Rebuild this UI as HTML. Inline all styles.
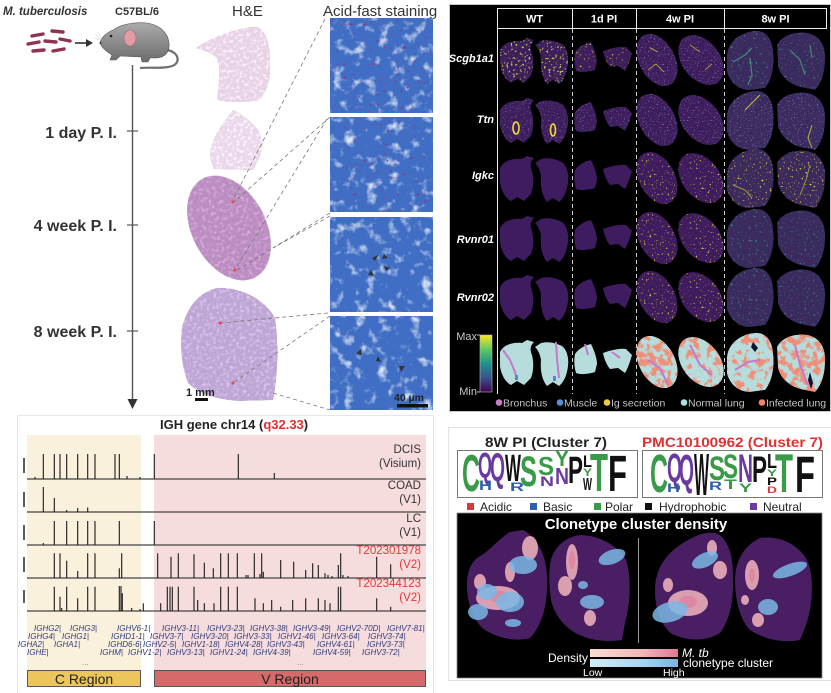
<!DOCTYPE html>
<html><head><meta charset="utf-8">
<style>
html,body{margin:0;padding:0;background:#fff;width:831px;height:693px;overflow:hidden}
svg{display:block}
text{font-family:"Liberation Sans",Arial,sans-serif}
.b{font-weight:bold}
.it{font-style:italic}
.g{font-style:italic;font-size:8px;fill:#2d3a7c}
.lg{font-size:10.5px;fill:#c4c4c4}
.rl{font-weight:bold;font-style:italic;font-size:11px;fill:#fff}
.hd{font-weight:bold;font-size:11px;fill:#fff}
.tl{font-size:11.5px;fill:#333}
.tr{font-size:11.5px;fill:#e03a3a}
.lo{font-weight:bold;font-size:10px}
</style></head><body>
<svg width="831" height="693" viewBox="0 0 831 693" xmlns="http://www.w3.org/2000/svg">
<defs>
 <linearGradient id="mg" x1="0" y1="0" x2="0" y2="1"><stop offset="0" stop-color="#ababab"/><stop offset="1" stop-color="#6c6c6c"/></linearGradient>
 <linearGradient id="vir" x1="0" y1="0" x2="0" y2="1"><stop offset="0" stop-color="#fde725"/><stop offset=".25" stop-color="#5ec962"/><stop offset=".5" stop-color="#21918c"/><stop offset=".75" stop-color="#3b528b"/><stop offset="1" stop-color="#440154"/></linearGradient>
 <linearGradient id="pk" x1="0" y1="0" x2="1" y2="0"><stop offset="0" stop-color="#f9ddd2"/><stop offset=".6" stop-color="#f0b5b8"/><stop offset="1" stop-color="#e07898"/></linearGradient>
 <linearGradient id="bl" x1="0" y1="0" x2="1" y2="0"><stop offset="0" stop-color="#d3ecf8"/><stop offset=".6" stop-color="#a8d4f0"/><stop offset="1" stop-color="#7cb4e2"/></linearGradient>

 <filter id="af" x="0" y="0" width="1" height="1" color-interpolation-filters="sRGB">
  <feTurbulence type="fractalNoise" baseFrequency="0.09" numOctaves="3" seed="3"/>
  <feColorMatrix type="matrix" values="3.2 0 0 0 -1.75  3.2 0 0 0 -1.75  3.2 0 0 0 -1.75  0 0 0 0 1"/>
  <feColorMatrix type="matrix" values="0.62 0 0 0 0.25  0.48 0 0 0 0.43  0.2 0 0 0 0.77  0 0 0 0 1"/>
 </filter>
 <filter id="af2" x="0" y="0" width="1" height="1" color-interpolation-filters="sRGB">
  <feTurbulence type="fractalNoise" baseFrequency="0.09" numOctaves="3" seed="5"/>
  <feColorMatrix type="matrix" values="3.2 0 0 0 -1.75  3.2 0 0 0 -1.75  3.2 0 0 0 -1.75  0 0 0 0 1"/>
  <feColorMatrix type="matrix" values="0.62 0 0 0 0.25  0.48 0 0 0 0.43  0.2 0 0 0 0.77  0 0 0 0 1" result="b"/>
  <feTurbulence type="fractalNoise" baseFrequency="0.3" numOctaves="1" seed="11"/>
  <feColorMatrix type="matrix" values="0 0 0 0 0.62  0 0 0 0 0.18  0 0 0 0 0.42  8 0 0 0 -5.4" result="m"/>
  <feMerge><feMergeNode in="b"/><feMergeNode in="m"/></feMerge>
 </filter>
 <filter id="tex" x="0" y="0" width="1" height="1" color-interpolation-filters="sRGB">
  <feTurbulence type="fractalNoise" baseFrequency="0.3" numOctaves="2" seed="5"/>
  <feColorMatrix type="matrix" values="2.5 0 0 0 -1.2  2.5 0 0 0 -1.2  2.5 0 0 0 -1.2  0 0 0 0 1" result="t"/>
  <feComposite in="SourceGraphic" in2="t" operator="arithmetic" k1="0" k2="1" k3="0.16" k4="0" result="a"/>
  <feComposite in="a" in2="SourceGraphic" operator="in"/>
 </filter>
 <filter id="pt" x="0" y="0" width="1" height="1" color-interpolation-filters="sRGB">
  <feTurbulence type="fractalNoise" baseFrequency="0.7" numOctaves="1" seed="2"/>
  <feColorMatrix type="matrix" values="0 0 0 0 0.5  0 0 0 0 0.45  0 0 0 0 0.7  6 0 0 0 -3.6" result="s"/>
  <feMerge><feMergeNode in="SourceGraphic"/><feMergeNode in="s"/></feMerge>
  <feComposite in2="SourceGraphic" operator="in"/>
 </filter>
 <filter id="py" x="0" y="0" width="1" height="1" color-interpolation-filters="sRGB">
  <feTurbulence type="fractalNoise" baseFrequency="0.5" numOctaves="2" seed="7"/>
  <feColorMatrix type="matrix" values="0 0 0 0 0.93  0 0 0 0 0.84  0 0 0 0 0.22  9 0 0 0 -5.9" result="y"/>
  <feMerge><feMergeNode in="SourceGraphic"/><feMergeNode in="y"/></feMerge>
  <feComposite in2="SourceGraphic" operator="in"/>
 </filter>
 <filter id="pyh" x="0" y="0" width="1" height="1" color-interpolation-filters="sRGB">
  <feTurbulence type="fractalNoise" baseFrequency="0.45" numOctaves="2" seed="9"/>
  <feColorMatrix type="matrix" values="0 0 0 0 0.78  0 0 0 0 0.85  0 0 0 0 0.3  7 0 0 0 -4.2" result="y"/>
  <feMerge><feMergeNode in="SourceGraphic"/><feMergeNode in="y"/></feMerge>
  <feComposite in2="SourceGraphic" operator="in"/>
 </filter>
 <filter id="pg" x="0" y="0" width="1" height="1" color-interpolation-filters="sRGB">
  <feTurbulence type="fractalNoise" baseFrequency="0.45" numOctaves="2" seed="13"/>
  <feColorMatrix type="matrix" values="0 0 0 0 0.22  0 0 0 0 0.5  0 0 0 0 0.52  7 0 0 0 -4.5" result="y"/>
  <feMerge><feMergeNode in="SourceGraphic"/><feMergeNode in="y"/></feMerge>
  <feComposite in2="SourceGraphic" operator="in"/>
 </filter>
 <filter id="an" x="0" y="0" width="1" height="1" color-interpolation-filters="sRGB">
  <feTurbulence type="fractalNoise" baseFrequency="0.14" numOctaves="3" seed="21"/>
  <feColorMatrix type="matrix" values="0 0 0 0 0.94  0 0 0 0 0.56  0 0 0 0 0.47  8 0 0 0 -3.6" result="s"/>
  <feMerge><feMergeNode in="SourceGraphic"/><feMergeNode in="s"/></feMerge>
  <feComposite in2="SourceGraphic" operator="in"/>
 </filter>
 <filter id="an2" x="0" y="0" width="1" height="1" color-interpolation-filters="sRGB">
  <feTurbulence type="fractalNoise" baseFrequency="0.14" numOctaves="3" seed="33"/>
  <feColorMatrix type="matrix" values="0 0 0 0 0.94  0 0 0 0 0.56  0 0 0 0 0.47  8 0 0 0 -4.2" result="s"/>
  <feMerge><feMergeNode in="SourceGraphic"/><feMergeNode in="s"/></feMerge>
  <feComposite in2="SourceGraphic" operator="in"/>
 </filter>

 <path id="LA" d="M500,50 C504,42 514,40 522,41 L527,38 L534,40 C531,43 530,46 531,50 C534,58 534,68 531,76 L524,83 L517,79 L511,83 C505,80 501,72 500,64 Z"/>
 <path id="LB" d="M535,45 L541,41 C548,39 556,41 562,44 C567,48 569,56 568,64 C567,73 564,80 559,84 L553,80 L547,84 C542,78 540,68 541,58 C540,52 538,48 535,45 Z"/>
 <path id="LC" d="M575,52 C579,46 586,43 591,42 C594,48 597,56 597,62 L595,70 C589,72 581,73 576,71 C574,64 574,58 575,52 Z"/>
 <path id="LD" d="M603,51 C611,48 620,46 626,47 L632,53 C630,60 628,66 625,71 L618,66 L610,67 C606,62 604,56 603,51 Z"/>
 <ellipse id="LE" cx="657" cy="60" rx="18" ry="28" transform="rotate(-28 657 60)"/>
 <ellipse id="LF" cx="701" cy="60" rx="19" ry="28" transform="rotate(-38 701 60)"/>
 <path id="LG" d="M727,55 C728,42 740,32 755,31 C765,30 772,38 773,50 C775,65 772,80 765,88 L750,90 C738,90 730,82 727,72 Z"/>
 <path id="LH" d="M777,45 C782,35 795,31 808,33 C820,36 826,46 825,60 C825,75 820,85 815,90 L805,88 C792,86 781,78 778,66 Z"/>
</defs>

<rect width="831" height="693" fill="#fff"/>

<!-- ================= TOP LEFT ================= -->
<text x="3" y="15" class="b it" font-size="11.5" fill="#333">M. tuberculosis</text>
<text x="115" y="15" class="b" font-size="11" fill="#333">C57BL/6</text>
<text x="232" y="16" font-size="15" fill="#333">H&amp;E</text>
<text x="323" y="16" font-size="15" fill="#333">Acid-fast staining</text>

<g stroke="#8e3350" stroke-width="3.4" stroke-linecap="round">
 <line x1="32" y1="36" x2="43" y2="34"/><line x1="52" y1="31" x2="63" y2="32"/>
 <line x1="28" y1="44" x2="39" y2="42"/><line x1="45" y1="41" x2="56" y2="42"/>
 <line x1="60" y1="39" x2="70" y2="41"/><line x1="33" y1="51" x2="44" y2="50"/>
 <line x1="53" y1="51" x2="64" y2="49"/>
</g>
<line x1="75" y1="43" x2="86" y2="43" stroke="#333" stroke-width="1.6"/>
<polygon points="86,39 93,43 86,47" fill="#333"/>

<path d="M167,50 C179,52 181,63 172,66 C164,69 150,67 140,68" fill="none" stroke="#707070" stroke-width="2.2"/>
<path d="M100,43 C101,38 106,33 113,30 L118,27 C125,24 135,22 147,23 C160,25 168,33 169,43 C170,52 165,57 157,58 L150,58 L148,62 L142,62 L141,57 L120,56 L116,60 L110,60 L112,55 C107,52 102,48 100,43 Z" fill="url(#mg)" stroke="#555" stroke-width="0.6"/>
<ellipse cx="130" cy="38" rx="6" ry="8" fill="#e69aa3" stroke="#7a7a7a" stroke-width="0.6"/>
<circle cx="111" cy="36" r="1.3" fill="#222"/>
<circle cx="100.5" cy="43" r="1" fill="#333"/>
<g stroke="#cfcfcf" stroke-width="0.5"><line x1="101" y1="40" x2="95" y2="34"/><line x1="101" y1="40" x2="94" y2="38"/><line x1="102" y1="40" x2="98" y2="32"/></g>

<line x1="132.5" y1="65" x2="132.5" y2="400" stroke="#555" stroke-width="1.4"/>
<polygon points="127.5,399 137.5,399 132.5,409" fill="#333"/>
<g stroke="#555" stroke-width="1.2"><line x1="127" y1="131" x2="138" y2="131"/><line x1="127" y1="225" x2="138" y2="225"/><line x1="127" y1="331" x2="138" y2="331"/></g>
<text x="117" y="138" text-anchor="end" class="b" font-size="16" fill="#333">1 day P. I.</text>
<text x="117" y="231" text-anchor="end" class="b" font-size="16" fill="#333">4 week P. I.</text>
<text x="117" y="337" text-anchor="end" class="b" font-size="16" fill="#333">8 week P. I.</text>

<path d="M196,48 C203,43 212,38 222,35 C232,31 245,27 257,27 C266,30 270,45 270,60 C271,78 268,92 258,101 L238,102 C228,102 219,101 217,99 C219,85 221,70 217,58 C212,53 205,51 196,48 Z" fill="#e6d3e4" filter="url(#tex)"/>
<path d="M233,110 C240,113 250,120 258,130 L263,142 C262,152 258,162 253,170 L214,169 C211,162 209,155 211,148 C214,136 222,124 233,110 Z" fill="#e8d8e8" filter="url(#tex)"/>
<ellipse cx="229" cy="228" rx="37" ry="56" transform="rotate(-28 229 228)" fill="#ba8cc0" filter="url(#tex)"/>
<path d="M217,288 C235,287 262,295 275,318 C279,345 278,375 273,400 L240,401 C220,400 200,395 188,383 C181,365 180,345 182,327 C188,305 200,292 217,288 Z" fill="#bea6d4" filter="url(#tex)"/>
<g fill="#e05050"><circle cx="233" cy="202" r="1.6"/><circle cx="235" cy="270" r="1.6"/><circle cx="220" cy="323" r="1.6"/><circle cx="233" cy="383" r="1.6"/></g>

<rect x="330" y="18" width="103" height="95" filter="url(#af2)"/>
<rect x="330" y="117" width="103" height="95" filter="url(#af2)"/>
<rect x="330" y="217" width="103" height="95" filter="url(#af)"/>
<rect x="330" y="316" width="103" height="94" filter="url(#af)"/>
<g fill="#333">
 <polygon points="372,258 378,255 375,261"/><polygon points="384,254 388,258 382,259"/><polygon points="390,268 384,266 386,271"/><polygon points="368,275 371,270 374,276"/>
 <polygon points="356,354 361,349 362,355"/><polygon points="378,356 381,362 376,361"/><polygon points="405,366 401,372 399,366"/>
</g>

<g stroke="#777" stroke-width="0.8" stroke-dasharray="4 3" fill="none">
 <line x1="325" y1="19" x2="233" y2="200"/>
 <line x1="330" y1="117" x2="234" y2="202"/>
 <line x1="327" y1="119" x2="235" y2="270"/>
 <line x1="330" y1="213" x2="237" y2="270"/>
 <line x1="330" y1="216" x2="273" y2="248"/>
 <line x1="328" y1="313" x2="221" y2="323"/>
 <line x1="330" y1="316" x2="233" y2="383"/>
 <line x1="273" y1="393" x2="330" y2="410"/>
</g>

<text x="186" y="396" class="b" font-size="11" fill="#222">1 mm</text>
<rect x="195" y="398" width="13" height="3" fill="#111"/>
<text x="394" y="401" class="b" font-size="10.5" fill="#222">40 µm</text>
<rect x="397" y="404" width="31" height="3.5" fill="#111"/>

<!-- ================= TOP RIGHT ================= -->
<rect x="449.5" y="4.5" width="381" height="407" fill="#000" stroke="#c8c8c8" stroke-width="1"/>
<g stroke="#eee" stroke-width="1" fill="none">
 <rect x="497.5" y="8.5" width="329" height="20"/>
 <line x1="572.5" y1="8.5" x2="572.5" y2="28.5"/><line x1="636.5" y1="8.5" x2="636.5" y2="28.5"/><line x1="724.5" y1="8.5" x2="724.5" y2="28.5"/>
 <line x1="497.5" y1="28.5" x2="497.5" y2="394"/>
</g>
<g stroke="#d0d0d0" stroke-width="1" stroke-dasharray="4 3">
 <line x1="572.5" y1="29" x2="572.5" y2="394"/><line x1="636.5" y1="29" x2="636.5" y2="394"/><line x1="724.5" y1="29" x2="724.5" y2="394"/>
</g>
<text x="534.5" y="22.5" text-anchor="middle" class="hd">WT</text>
<text x="604" y="22.5" text-anchor="middle" class="hd">1d PI</text>
<text x="680" y="22.5" text-anchor="middle" class="hd">4w PI</text>
<text x="775.5" y="22.5" text-anchor="middle" class="hd">8w PI</text>

<text x="494" y="62" text-anchor="end" class="rl">Scgb1a1</text>
<text x="494" y="123" text-anchor="end" class="rl">Ttn</text>
<text x="494" y="179" text-anchor="end" class="rl">Igkc</text>
<text x="494" y="243" text-anchor="end" class="rl">Rvnr01</text>
<text x="494" y="301" text-anchor="end" class="rl">Rvnr02</text>

<g fill="#3d1d5c">
 <use href="#LA" filter="url(#pyh)"/><use href="#LB" filter="url(#pyh)"/>
 <use href="#LC" filter="url(#py)"/><use href="#LD" filter="url(#py)"/>
 <use href="#LE" filter="url(#pt)"/><use href="#LF" filter="url(#pt)"/>
 <use href="#LG" fill="#3a2a5e" filter="url(#pg)"/><use href="#LH" fill="#3a2a5e" filter="url(#pg)"/>
</g>
<g stroke="#4aa878" stroke-width="1.2" fill="none" opacity="0.75">
 <path d="M733,62 L745,55 L752,48"/><path d="M750,58 L752,75 L748,85"/><path d="M790,50 L800,60 L805,75"/><path d="M810,45 L812,58"/>
</g>
<g stroke="#d8c838" stroke-width="1" fill="none" opacity="0.7">
 <path d="M648,70 L656,64 L664,72"/><path d="M690,45 L700,52"/><path d="M705,70 L712,64"/><path d="M650,48 L658,52"/>
</g>
<g fill="#3d1d5c">
 <use href="#LA" y="60" filter="url(#pt)"/><use href="#LB" y="60" filter="url(#pt)"/>
 <use href="#LC" y="60" filter="url(#pt)"/><use href="#LD" y="60" filter="url(#pt)"/>
 <use href="#LE" y="60" filter="url(#pt)"/><use href="#LF" y="60" filter="url(#pt)"/>
 <use href="#LG" y="60" fill="#3a2a5e" filter="url(#pt)"/><use href="#LH" y="60" fill="#3a2a5e" filter="url(#pt)"/>
</g>
<g fill="none" stroke="#f0dc30" stroke-width="1.6">
 <ellipse cx="516" cy="128" rx="3" ry="6"/><ellipse cx="553" cy="130" rx="2.5" ry="6"/>
</g>
<path d="M760,95 L750,105 L745,110" stroke="#c8c040" stroke-width="1" fill="none"/>
<path d="M812,125 L808,138 L812,148" stroke="#b8b040" stroke-width="1" fill="none"/>
<g fill="#3f1b60">
 <use href="#LA" y="118"/><use href="#LB" y="118"/><use href="#LC" y="118"/><use href="#LD" y="118"/>
 <use href="#LE" y="118" filter="url(#py)"/><use href="#LF" y="118" filter="url(#py)"/>
 <use href="#LG" y="118" fill="#3a2a5e" filter="url(#py)"/><use href="#LH" y="118" fill="#3a2a5e" filter="url(#py)"/>
 <use href="#LA" y="178"/><use href="#LB" y="178"/><use href="#LC" y="178"/><use href="#LD" y="178"/>
 <use href="#LE" y="178" filter="url(#py)"/><use href="#LF" y="178" filter="url(#py)"/>
 <use href="#LG" y="178" fill="#3a2a5e" filter="url(#pg)"/><use href="#LH" y="178" fill="#3a2a5e" filter="url(#pg)"/>
 <use href="#LA" y="237"/><use href="#LB" y="237"/><use href="#LC" y="237"/><use href="#LD" y="237"/>
 <use href="#LE" y="237" filter="url(#py)"/><use href="#LF" y="237" filter="url(#py)"/>
 <use href="#LG" y="237" fill="#3a2a5e" filter="url(#pg)"/><use href="#LH" y="237" fill="#3a2a5e" filter="url(#pg)"/>
</g>
<g stroke="#c8c040" stroke-width="1" fill="none" opacity="0.7">
 <path d="M733,185 L745,190 L752,198"/><path d="M810,165 L806,180 L800,195"/>
</g>
<g fill="#b6dcdc">
 <use href="#LA" y="302"/><use href="#LB" y="302"/><use href="#LC" y="302"/><use href="#LD" y="302"/>
 <use href="#LE" y="302" filter="url(#an)"/><use href="#LF" y="302" filter="url(#an2)"/>
 <use href="#LG" y="302" filter="url(#an2)"/><use href="#LH" y="302" filter="url(#an)"/>
</g>
<g stroke="#c47ac8" stroke-width="2" fill="none">
 <path d="M503,350 L510,360 L515,372 L517,380"/><path d="M556,342 L557,358 L559,378"/>
 <path d="M585,344 L588,355"/><path d="M612,352 L620,358"/>
 <path d="M648,360 L660,368 L668,385"/><path d="M690,345 L700,365 L712,375"/>
 <path d="M735,370 L748,362 L760,360"/><path d="M795,345 L800,365 L808,385"/>
</g>
<g fill="#0a1430"><path d="M753,342 L758,348 L755,352 L751,347 Z"/><path d="M810,372 L813,383 L811,389 L808,380 Z"/></g>
<g fill="#5a86cc"><rect x="515" y="375" width="3" height="5"/><rect x="553" y="376" width="3" height="5"/></g>

<rect x="480" y="335" width="12" height="57" fill="url(#vir)" stroke="#bbb" stroke-width="0.6"/>
<line x1="477" y1="335" x2="480" y2="335" stroke="#bbb"/><line x1="477" y1="392" x2="480" y2="392" stroke="#bbb"/>
<text x="477" y="340" text-anchor="end" font-size="11" fill="#c8c8c8">Max</text>
<text x="477" y="395" text-anchor="end" font-size="11" fill="#c8c8c8">Min</text>

<circle cx="499" cy="402.5" r="3.3" fill="#c77dc7"/><text x="503" y="406.5" class="lg">Bronchus</text>
<circle cx="560" cy="402.5" r="3.3" fill="#5b8fd0"/><text x="564" y="406.5" class="lg">Muscle</text>
<circle cx="607" cy="402.5" r="3.3" fill="#e8d040"/><text x="611" y="406.5" class="lg">Ig secretion</text>
<circle cx="684" cy="402.5" r="3.3" fill="#b0e0e0"/><text x="688" y="406.5" class="lg">Normal lung</text>
<circle cx="762" cy="402.5" r="3.3" fill="#f08070"/><text x="766" y="406.5" class="lg">Infected lung</text>

<!-- ================= BOTTOM LEFT ================= -->
<rect x="17.5" y="415.5" width="416" height="290" fill="none" stroke="#e6e6e6"/>
<text x="160" y="429" class="b" font-size="13" fill="#222">IGH gene chr14 (<tspan fill="#e03030">q32.33</tspan>)</text>
<rect x="27" y="435" width="114" height="252" fill="#faf1dd"/>
<rect x="154" y="435" width="272" height="252" fill="#f6dcdc"/>

<g stroke="#444" stroke-width="1.2">
 <line x1="27" y1="479" x2="426" y2="479"/><line x1="27" y1="512" x2="426" y2="512"/><line x1="27" y1="545" x2="426" y2="545"/><line x1="27" y1="578" x2="426" y2="578"/><line x1="27" y1="611" x2="426" y2="611"/>
</g>
<g stroke="#333" stroke-width="1.6">
 <line x1="24" y1="458" x2="24" y2="473"/><line x1="24" y1="492" x2="24" y2="507"/><line x1="24" y1="525" x2="24" y2="540"/><line x1="24" y1="557" x2="24" y2="572"/><line x1="24" y1="590" x2="24" y2="603"/>
</g>
<g stroke="#1a1a1a" stroke-width="1.1" fill="none">
 <path d="M43.3 479V454M54.3 479V454M60 479V454M66.7 479V454M77.7 479V454M87.7 479V454M95 479V454M115 479V454M119.3 479V454M154.3 479V454M238.3 479V454M274.3 479V473M35 479V477M127 479V476M140 479V477"/>
 <path d="M43.3 512V487M54.3 512V498M77.7 512V508M87.7 512V507.5M66.7 512V510"/>
 <path d="M54.3 545V521M66.7 545V521M77.7 545V521M87.7 545V521M95 545V521M119.3 545V521M154.3 545V521M43.3 545V543"/>
 <path d="M54.3 578V553.3M60 578V553.3M66.7 578V560.7M77.7 578V571M87.7 578V553.3M95 578V553.3M119.3 578V568.3M121.7 578V553.3M157.7 578V553.3M171 578V556.7M178.3 578V553.3M194 578V554.3M204.3 578V562.7M213.3 578V568.3M220.7 578V553.3M228.3 578V553.3M237.3 578V553.3M246 578V575M254.3 578V553.3M261.7 578V553.3M263.3 578V571.7M280.7 578V560M293.7 578V561.7M305.7 578V570M312.7 578V563.3M318.3 578V565M325 578V573.3M338.3 578V565M340.7 578V553.3M376.7 578V556.7M390.7 578V564.3M248 578V575M260 578V574M328 578V575M332 578V576M343 578V575M348 578V576"/>
 <path d="M54.3 611V586.7M60 611V596.7M66.7 611V586.7M77.7 611V598.3M87.7 611V586.7M95 611V586.7M119.3 611V586M121 611V586M122.3 611V593.3M143.3 611V603.3M160.7 611V603.3M167.3 611V586.7M170 611V586.7M172.3 611V586.7M178.3 611V586.7M194 611V586.7M197.7 611V600M204.3 611V603.3M214 611V603.3M220.7 611V586.7M228.3 611V586.7M237.3 611V586.7M255 611V598.3M263.3 611V603.3M271.7 611V600M280.7 611V606.7M292.7 611V600M305.7 611V598.3M318.3 611V598.3M325 611V600M330 611V603.3M338.3 611V586.7M340.7 611V586.7M376.7 611V598.3M390.7 611V606.7M61.7 611V608M131.7 611V608M140 611V609"/>
</g>
<text x="421" y="453" text-anchor="end" class="tl">DCIS</text>
<text x="421" y="467" text-anchor="end" class="tl">(Visium)</text>
<text x="421" y="489" text-anchor="end" class="tl">COAD</text>
<text x="421" y="503" text-anchor="end" class="tl">(V1)</text>
<text x="421" y="522" text-anchor="end" class="tl">LC</text>
<text x="421" y="536" text-anchor="end" class="tl">(V1)</text>
<text x="421" y="554" text-anchor="end" class="tr">T202301978</text>
<text x="421" y="568" text-anchor="end" class="tr">(V2)</text>
<text x="421" y="587" text-anchor="end" class="tr">T202344123</text>
<text x="421" y="601" text-anchor="end" class="tr">(V2)</text>

<g class="g">
 <text x="34" y="631">IGHG2|</text><text x="70" y="631">IGHG3|</text><text x="117" y="631">IGHV6-1|</text><text x="162" y="631">IGHV3-11|</text><text x="207" y="631">IGHV3-23|</text><text x="250" y="631">IGHV3-38|</text><text x="293" y="631">IGHV3-49|</text><text x="337" y="631">IGHV2-70D|</text><text x="387" y="631">IGHV7-81|</text>
 <text x="28" y="639">IGHG4|</text><text x="62" y="639">IGHG1|</text><text x="111" y="639">IGHD1-1|</text><text x="150" y="639">IGHV3-7|</text><text x="191" y="639">IGHV3-20|</text><text x="234" y="639">IGHV3-33|</text><text x="278" y="639">IGHV1-46|</text><text x="322" y="639">IGHV3-64|</text><text x="368" y="639">IGHV3-74|</text>
 <text x="18" y="647">IGHA2|</text><text x="54" y="647">IGHA1|</text><text x="108" y="647">IGHD6-6|</text><text x="143" y="647">IGHV2-5|</text><text x="182" y="647">IGHV1-18|</text><text x="225" y="647">IGHV4-28|</text><text x="267" y="647">IGHV3-43|</text><text x="317" y="647">IGHV4-61|</text><text x="367" y="647">IGHV3-73|</text>
 <text x="27" y="655">IGHE|</text><text x="100" y="655">IGHM|</text><text x="128" y="655">IGHV1-2|</text><text x="167" y="655">IGHV3-13|</text><text x="210" y="655">IGHV1-24|</text><text x="253" y="655">IGHV4-39|</text><text x="313" y="655">IGHV4-59|</text><text x="362" y="655">IGHV3-72|</text>
</g>
<text x="82" y="665" font-size="8" fill="#888">...</text>
<text x="297" y="665" font-size="8" fill="#888">...</text>
<rect x="27.5" y="670.5" width="113" height="16" fill="#ecc65c" stroke="#555"/>
<text x="84" y="684" text-anchor="middle" font-size="14" fill="#222">C Region</text>
<rect x="154.5" y="670.5" width="271" height="16" fill="#d46a6a" stroke="#555"/>
<text x="290" y="684" text-anchor="middle" font-size="14" fill="#222">V Region</text>

<!-- ================= BOTTOM RIGHT ================= -->
<rect x="448.5" y="427.5" width="384" height="253" fill="none" stroke="#e2e2e2"/>
<text x="485" y="447" class="b" font-size="14" fill="#222" textLength="122" lengthAdjust="spacingAndGlyphs">8W PI (Cluster 7)</text>
<text x="642" y="447" class="b" font-size="14" fill="#e03030" textLength="181" lengthAdjust="spacingAndGlyphs">PMC10100962 (Cluster 7)</text>
<rect x="457.5" y="450.5" width="180" height="47" fill="#fff" stroke="#777"/>
<rect x="642.5" y="450.5" width="180" height="47" fill="#fff" stroke="#777"/>

<g class="lo">
 <text transform="translate(462,491) scale(2.49,5.21)" fill="#3a9a48">C</text>
 <text transform="translate(478,478) scale(1.8,3.57)" fill="#6a3aa0">Q</text>
 <text transform="translate(479,490) scale(1.8,1.37)" fill="#2e5fae">H</text>
 <text transform="translate(490,481) scale(1.93,3.98)" fill="#6a3aa0">Q</text>
 <text transform="translate(505,481) scale(1.69,3.84)" fill="#111">W</text>
 <text transform="translate(510,491) scale(1.94,1.23)" fill="#2e5fae">R</text>
 <text transform="translate(520,486) scale(2.55,4.25)" fill="#3a9a48">S</text>
 <text transform="translate(538,475) scale(2.4,2.6)" fill="#3a9a48">S</text>
 <text transform="translate(540,486) scale(1.94,1.37)" fill="#6a3aa0">N</text>
 <text transform="translate(555,466) scale(2.1,2.2)" fill="#3a9a48">Y</text>
 <text transform="translate(555,484) scale(1.94,2.33)" fill="#6a3aa0">N</text>
 <text transform="translate(568,483) scale(2.25,3.84)" fill="#111">P</text>
 <text transform="translate(583,467) scale(1.47,1.65)" fill="#111">L</text>
 <text transform="translate(583,476) scale(1.35,1.1)" fill="#3a9a48">Y</text>
 <text transform="translate(583,490) scale(0.95,1.78)" fill="#111">W</text>
 <text transform="translate(590,491) scale(2.95,5.35)" fill="#3a9a48">T</text>
 <text transform="translate(608,491) scale(3.11,5.08)" fill="#111">F</text>
 <text transform="translate(650,492) scale(2.49,5.35)" fill="#3a9a48">C</text>
 <text transform="translate(667,482) scale(1.93,4.1)" fill="#6a3aa0">Q</text>
 <text transform="translate(667,492) scale(1.8,1.23)" fill="#2e5fae">H</text>
 <text transform="translate(679,485) scale(1.93,4.4)" fill="#6a3aa0">Q</text>
 <text transform="translate(694,495) scale(1.59,5.9)" fill="#111">W</text>
 <text transform="translate(709,480) scale(2.4,3.43)" fill="#3a9a48">S</text>
 <text transform="translate(709,490) scale(1.8,1.23)" fill="#2e5fae">R</text>
 <text transform="translate(723,478) scale(2.25,3.43)" fill="#3a9a48">S</text>
 <text transform="translate(724,489) scale(2.13,1.37)" fill="#3a9a48">T</text>
 <text transform="translate(738,482) scale(2.08,3.98)" fill="#6a3aa0">N</text>
 <text transform="translate(739,492) scale(1.95,1.23)" fill="#3a9a48">Y</text>
 <text transform="translate(752,482) scale(2.25,3.7)" fill="#111">P</text>
 <text transform="translate(767,468) scale(1.64,2.06)" fill="#111">L</text>
 <text transform="translate(767,476) scale(1.5,0.96)" fill="#3a9a48">Y</text>
 <text transform="translate(767,485) scale(1.5,1.1)" fill="#111">P</text>
 <text transform="translate(767,493) scale(1.38,0.96)" fill="#d63a3a">D</text>
 <text transform="translate(775,492) scale(2.95,5.49)" fill="#3a9a48">T</text>
 <text transform="translate(795,492) scale(3.27,5.08)" fill="#111">F</text>
</g>

<rect x="467" y="503" width="7" height="7" fill="#d63a3a"/><text x="480" y="511" font-size="12" fill="#222">Acidic</text>
<rect x="530" y="503" width="7" height="7" fill="#2e5fae"/><text x="543" y="511" font-size="12" fill="#222">Basic</text>
<rect x="594" y="503" width="7" height="7" fill="#3a9a48"/><text x="605" y="511" font-size="12" fill="#222">Polar</text>
<rect x="645" y="503" width="7" height="7" fill="#111"/><text x="659" y="511" font-size="12" fill="#222">Hydrophobic</text>
<rect x="750" y="503" width="7" height="7" fill="#6a3aa0"/><text x="763" y="511" font-size="12" fill="#222">Neutral</text>

<rect x="457" y="513" width="365" height="165" fill="#000" stroke="#888" stroke-width="0.8"/>
<text x="636" y="529" text-anchor="middle" class="b" font-size="15" fill="#fff">Clonetype cluster  density</text>
<line x1="638.5" y1="538" x2="638.5" y2="643" stroke="#9a9a9a" stroke-width="1"/>

<g fill="#4a1e62">
 <path d="M467,590 C466,570 472,560 482,555 C492,548 500,538 510,532 L523,530 C530,533 535,540 540,548 C546,558 548,575 547,590 C546,608 542,625 530,638 C515,642 498,638 485,630 C474,622 468,605 467,590 Z"/>
 <path d="M550,565 C552,548 565,537 580,535 C598,535 618,545 626,560 C632,578 630,605 625,623 L622,640 C608,642 594,641 582,636 C566,630 554,615 551,600 C549,588 549,575 550,565 Z"/>
 <path d="M655,590 C655,570 665,555 680,545 C695,535 708,530 718,534 C728,540 733,555 733,575 C734,600 730,620 720,633 C705,642 688,641 672,634 C660,625 655,608 655,590 Z"/>
 <path d="M735,580 C735,560 745,545 760,538 C780,535 800,545 808,562 C814,580 813,605 806,625 L800,640 C785,643 765,640 750,630 C740,620 735,600 735,580 Z"/>
</g>
<g fill="#eeb0bc" opacity="0.88">
 <ellipse cx="498" cy="598" rx="22" ry="12"/><ellipse cx="530" cy="548" rx="8" ry="12"/><ellipse cx="480" cy="582" rx="6" ry="8"/><ellipse cx="510" cy="572" rx="5" ry="10"/>
 <ellipse cx="572" cy="562" rx="6" ry="18"/><ellipse cx="565" cy="586" rx="7" ry="10"/><ellipse cx="590" cy="618" rx="6" ry="8"/>
 <ellipse cx="688" cy="603" rx="20" ry="13"/><ellipse cx="720" cy="570" rx="7" ry="9"/><ellipse cx="668" cy="585" rx="5" ry="7"/><ellipse cx="712" cy="548" rx="5" ry="8"/>
 <ellipse cx="752" cy="575" rx="7" ry="15"/><ellipse cx="758" cy="620" rx="6" ry="7"/><ellipse cx="745" cy="600" rx="4" ry="5"/>
</g>
<g fill="#e07898" opacity="0.6">
 <ellipse cx="500" cy="597" rx="10" ry="6"/><ellipse cx="572" cy="560" rx="3" ry="9"/><ellipse cx="688" cy="602" rx="9" ry="6"/><ellipse cx="752" cy="575" rx="3" ry="7"/>
</g>
<g fill="#7ab8e5" opacity="0.85">
 <ellipse cx="523" cy="565" rx="14" ry="9"/><ellipse cx="487" cy="592" rx="10" ry="8"/><ellipse cx="510" cy="602" rx="14" ry="10"/><ellipse cx="478" cy="612" rx="10" ry="8"/><ellipse cx="513" cy="623" rx="8" ry="4"/>
 <ellipse cx="612" cy="557" rx="14" ry="7" transform="rotate(-20 612 557)"/><ellipse cx="592" cy="602" rx="12" ry="7"/><ellipse cx="583" cy="585" rx="5" ry="4"/>
 <ellipse cx="705" cy="560" rx="14" ry="7" transform="rotate(-25 705 560)"/><ellipse cx="670" cy="612" rx="18" ry="10" transform="rotate(-15 670 612)"/>
 <ellipse cx="790" cy="570" rx="18" ry="6" transform="rotate(-20 790 570)"/><ellipse cx="768" cy="607" rx="10" ry="8"/>
</g>

<text x="548" y="662" font-size="12" fill="#fff">Density</text>
<rect x="590" y="649" width="88" height="8" fill="url(#pk)"/>
<rect x="590" y="659" width="88" height="8" fill="url(#bl)"/>
<text x="583" y="676" font-size="10.5" fill="#fff">Low</text>
<text x="663" y="676" font-size="10.5" fill="#fff">High</text>
<text x="682" y="657" font-size="12" class="it" fill="#fff">M. tb</text>
<text x="683" y="667" font-size="12" fill="#fff">clonetype cluster</text>
</svg>
</body></html>
